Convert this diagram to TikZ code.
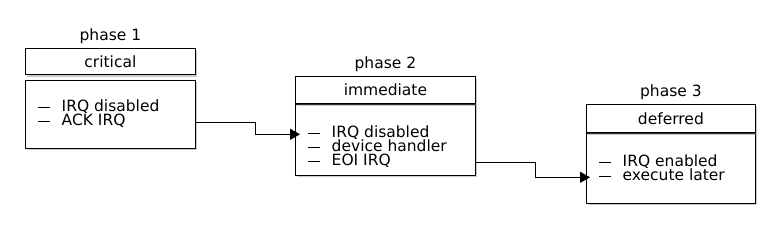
\documentclass[tikz,border=0pt]{standalone}
\usepackage{fontspec}
\setmainfont{DejaVu Sans}
\usepackage{xcolor}
\usetikzlibrary{arrows.meta,positioning,calc,shadows}
\definecolor{IRQInk}  {HTML}{000000}
\definecolor{IRQShade}{HTML}{7A7A7A}
\definecolor{IRQWhite}{HTML}{FFFFFF}
\newcommand{\itemdash}{\rule[3.5bp]{11.5bp}{0.9bp}\hspace{12bp}}

\begin{document}
\begin{tikzpicture}[x=1bp,y=-1bp,
    every node/.style={font=\fontsize{15.5bp}{14bp}\selectfont,text=IRQInk},
    phasebox/.style={draw=IRQInk,fill=IRQWhite,line width=0.8bp,inner sep=0pt,
      drop shadow={shadow xshift=2bp,shadow yshift=-2bp,fill=IRQShade,opacity=0.4}},
    title/.style={inner sep=2bp},
    entry/.style={anchor=base west,inner sep=0pt},
    flow/.style={draw=IRQInk,line width=0.8bp,-{Triangle[length=10bp,width=11bp]}}]
    \useasboundingbox[fill=IRQWhite] (0,0) rectangle (780,238);

    % Phase 1
    \node[phasebox,minimum width=170bp,minimum height=68bp,anchor=north west]
      (b1) at (25,80) {};
    \node[phasebox,minimum width=170bp,minimum height=26bp,above=5bp of b1] (h1) {critical};
    \node[title,above=2bp of h1] (t1) {phase 1};
    \node[entry] (i1a) at (38,111) {\itemdash IRQ disabled};
    \node[entry] (i1b) at (38,125) {\itemdash ACK IRQ};

    % Phase 2
    \node[phasebox,minimum width=180bp,minimum height=71bp,anchor=north west]
      (b2) at (295,104) {};
    \node[phasebox,minimum width=180bp,minimum height=27bp,above=0pt of b2] (h2) {immediate};
    \node[title,above=2bp of h2] (t2) {phase 2};
    \node[entry] (i2a) at (308,137) {\itemdash IRQ disabled};
    \node[entry] (i2b) at (308,151) {\itemdash device handler};
    \node[entry] (i2c) at (308,165) {\itemdash EOI IRQ};

    % Phase 3
    \node[phasebox,minimum width=169bp,minimum height=70bp,anchor=north west]
      (b3) at (586,133) {};
    \node[phasebox,minimum width=169bp,minimum height=28bp,above=0pt of b3] (h3) {deferred};
    \node[title,above=2bp of h3] (t3) {phase 3};
    \node[entry] (i3a) at (599,166) {\itemdash IRQ enabled};
    \node[entry] (i3b) at (599,180) {\itemdash execute later};

    % Hand-over between phases
    \draw[flow] (b1.east |- i1b.mid) -- ++(60,0) |- ([xshift=5bp]b2.west |- i2a.mid);
    \draw[flow] (b2.east |- i2c.mid) -- ++(60,0) |- ([xshift=4bp]b3.west |- i3b.mid);
\end{tikzpicture}
\end{document}
